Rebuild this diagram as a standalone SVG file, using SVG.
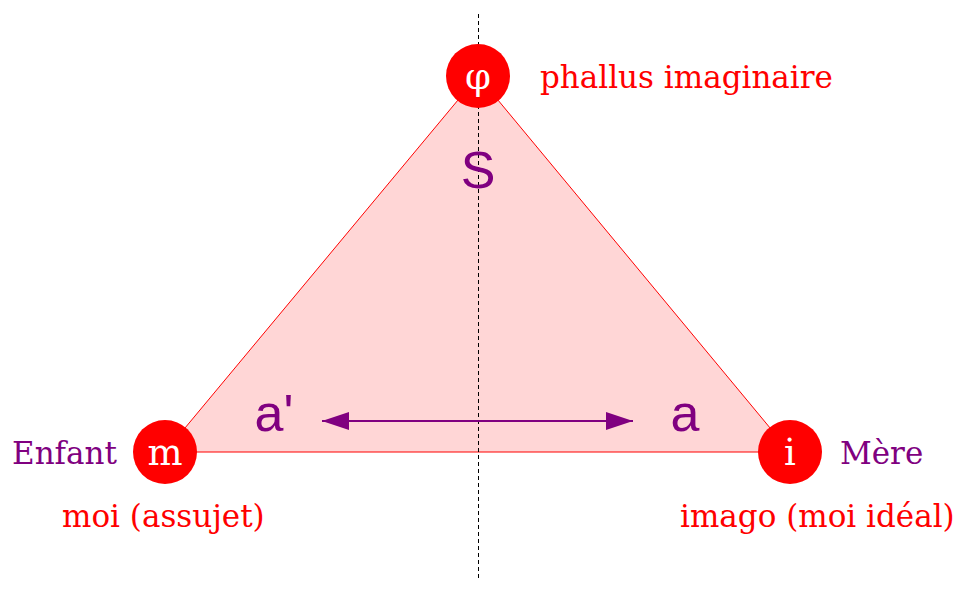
<svg xmlns="http://www.w3.org/2000/svg" width="967" height="589" viewBox="0 0 967 589">
<style>
.node circle{fill:#ff0000}
.nl{font-family:"DejaVu Serif",serif;font-size:37px;fill:#fff;text-anchor:middle}
.red{font-family:"DejaVu Serif",serif;font-size:31px;fill:#ff0000}
.pur{font-family:"DejaVu Serif",serif;font-size:31px;fill:#800080}
.sans{font-family:"Liberation Sans",sans-serif;font-size:52px;fill:#800080;text-anchor:middle}
</style>
<defs>
<marker id="ah" viewBox="0 0 27 18" refX="27" refY="9" markerWidth="27" markerHeight="18" markerUnits="userSpaceOnUse" orient="auto-start-reverse">
<path d="M0,0 L27,9 L0,18 Z" fill="#800080"/>
</marker>
</defs>
<polygon points="165,452 478,76 790,452" fill="#ffd6d6" stroke="#ff0000" stroke-width="1"/>
<line x1="478.5" y1="14" x2="478.5" y2="578" stroke="#000" stroke-width="1" stroke-dasharray="4,3"/>
<g id="connectors">
<line x1="322" y1="421" x2="633" y2="421" stroke="#800080" stroke-width="2" marker-start="url(#ah)" marker-end="url(#ah)"/>
</g>
<text class="sans" x="478" y="188">S</text>
<text class="sans" x="274" y="431">a'</text>
<text class="sans" x="685" y="431">a</text>
<g id="phi" class="node">
<circle cx="478" cy="76" r="32"/>
<text class="nl" x="478" y="89">φ</text>
<text class="red" x="540" y="88">phallus imaginaire</text>
</g>
<g id="m" class="node">
<circle cx="165" cy="452" r="32"/>
<text class="nl" x="165" y="465">m</text>
<text class="pur" x="12" y="464">Enfant</text>
<text class="red" x="62" y="527">moi (assujet)</text>
</g>
<g id="i" class="node">
<circle cx="790" cy="452" r="32"/>
<text class="nl" x="790" y="465">i</text>
<text class="pur" x="840" y="464">Mère</text>
<text class="red" x="680" y="527">imago (moi idéal)</text>
</g>
</svg>
